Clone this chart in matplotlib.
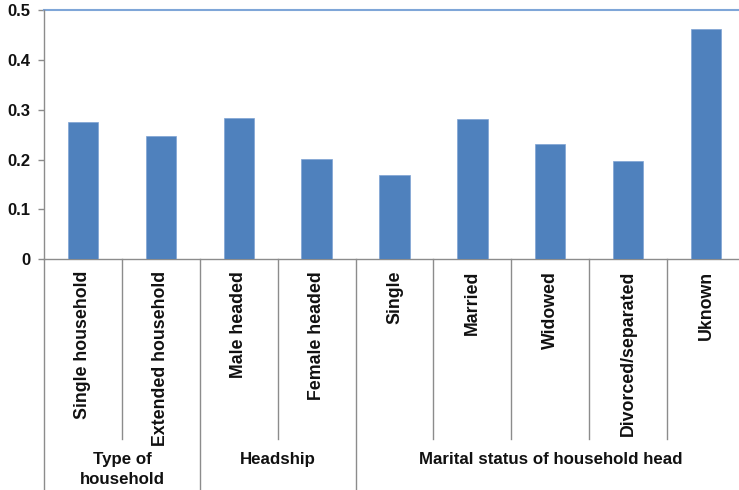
import matplotlib
matplotlib.use("Agg")
import matplotlib.pyplot as plt
from matplotlib.transforms import blended_transform_factory

categories = ["Single household", "Extended household", "Male headed", "Female headed",
              "Single", "Married", "Widowed", "Divorced/separated", "Uknown"]
values = [0.276, 0.248, 0.284, 0.201, 0.169, 0.282, 0.231, 0.198, 0.463]
groups = ["Type of\nhousehold", "Headship", "Marital status of household head"]
group_sizes = [2, 2, 5]
yticks = [0, 0.1, 0.2, 0.3, 0.4, 0.5]
ytick_labels = ["0", "0.1", "0.2", "0.3", "0.4", "0.5"]

plt.rcParams['font.family'] = ['Liberation Sans', 'DejaVu Sans']
W, H = 739, 490
fig = plt.figure(figsize=(W / 100, H / 100), dpi=100)
ax = fig.add_axes([44 / W, 1 - 259 / H, (745 - 44) / W, (259 - 10.5) / H])

x = list(range(len(categories)))
ax.bar(x, values, width=0.39, color='#4F81BD', edgecolor='#7FA3D3', linewidth=0.5, zorder=3)
ax.set_xlim(-0.5, len(categories) - 0.5)
ax.set_ylim(0, 0.5)
ax.set_yticks(yticks)
ax.set_yticklabels(ytick_labels, fontsize=12, fontweight='bold', color='#111111')
ax.tick_params(axis='y', length=4.5, width=1, color='#8C8C8C', pad=5)
ax.set_xticks([])
for s in ['top', 'right']:
    ax.spines[s].set_visible(False)
ax.spines['left'].set_color('#8C8C8C')
ax.spines['bottom'].set_color('#8C8C8C')
ax.spines['left'].set_linewidth(1)
ax.spines['bottom'].set_linewidth(1)
ax.axhline(0.5, color='#7FA6D8', linewidth=1.5, zorder=2, clip_on=False)

trans = blended_transform_factory(ax.transData, fig.transFigure)
y0 = 1 - 259 / H
y_inner = 1 - 439 / H

bounds = [-0.5]
for gsz in group_sizes:
    bounds.append(bounds[-1] + gsz)
group_bound_set = set(bounds)

for i in range(len(categories) + 1):
    xb = i - 0.5
    ybot = 0.0 if xb in group_bound_set else y_inner
    ax.plot([xb, xb], [y0, ybot], transform=trans, color='#8C8C8C', linewidth=1, clip_on=False)

for i, c in enumerate(categories):
    ax.text(i, 1 - 271 / H, c, transform=trans, rotation=90, ha='center', va='top',
            fontsize=12.8, fontweight='bold', color='#111111')

for gi, g in enumerate(groups):
    cx = (bounds[gi] + bounds[gi + 1]) / 2
    ax.text(cx, 1 - 452 / H, g, transform=trans, ha='center', va='top',
            fontsize=12.2, fontweight='bold', color='#111111', linespacing=1.4)

fig.savefig("out.png", dpi=100)
